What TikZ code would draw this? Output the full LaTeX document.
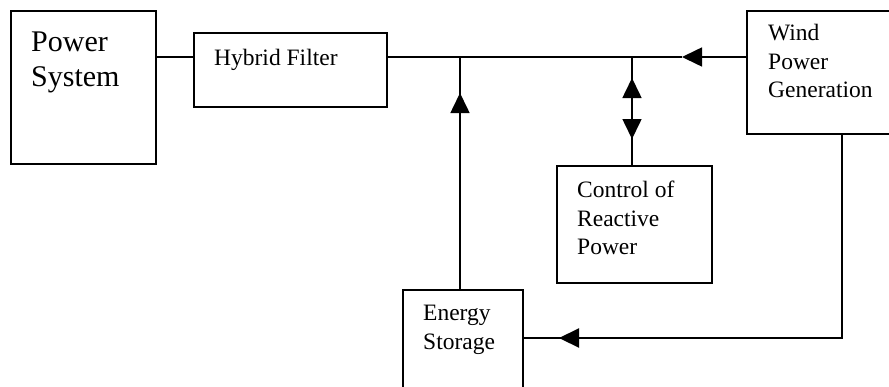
\documentclass[tikz,border=0pt]{standalone}
\usepackage{fontspec}
\setmainfont{Liberation Serif}
\usetikzlibrary{arrows.meta}
\tikzset{
  box/.style={draw, line width=1.6pt, rectangle, inner sep=0pt, anchor=north west},
  lbl/.style={anchor=north west, inner sep=0pt, align=left, font=\fontsize{23.5pt}{28.5pt}\selectfont},
  biglbl/.style={anchor=north west, inner sep=0pt, align=left, font=\fontsize{30pt}{35pt}\selectfont},
  wire/.style={line width=1.6pt},
  tri/.style={wire, -{Triangle[length=20pt, width=19pt]}}
}
\begin{document}
\begin{tikzpicture}[x=1pt, y=-1pt]
\useasboundingbox (0,0) rectangle (889,386);
\clip (0,0) rectangle (889,386);
% boxes
\node[box, minimum width=145pt, minimum height=153pt] (ps) at (10,10) {};
\node[box, minimum width=193pt, minimum height=74pt] (hf) at (193,32) {};
\node[box, minimum width=150pt, minimum height=123pt] (wind) at (746,10) {};
\node[box, minimum width=155pt, minimum height=117pt] (ctrl) at (556,165) {};
\node[box, minimum width=120pt, minimum height=120pt] (es) at (402,289) {};
% labels
\node[biglbl] (tps) at (31,32) {Power\\System};
\node[lbl] (thf) at (214,49) {Hybrid Filter};
\node[lbl] (twind) at (768,24) {Wind\\Power\\Generation};
\node[lbl] (tctrl) at (577,181) {Control of\\Reactive\\Power};
\node[lbl] (tes) at (423,305) {Energy\\Storage};
% coordinates
\coordinate (jE) at (460,57);
\coordinate (jC) at (632,57);
\coordinate (aW) at (682,57);
\coordinate (aE) at (460,93);
\coordinate (aCu) at (632,78);
\coordinate (aCd) at (632,139);
\coordinate (wb) at (842,133);
\coordinate (aS) at (559,338);
\coordinate (aSs) at (630,338);
\coordinate (esR) at (522,338);
% connectors
\draw[wire] (ps.east |- jE) -- (hf.west |- jE);
\draw[wire] (hf.east |- jE) -- (aW);
\draw[tri] (wind.west |- jE) -- (aW);
\draw[wire] (es.north -| jE) -- (jE);
\draw[tri] (es.north -| jE) -- (aE);
\draw[tri] (jC) -- (aCd);
\draw[tri] (ctrl.north -| jC) -- (aCu);
\draw[wire] (wb) |- (esR);
\draw[tri, line width=2.2pt] (aSs) -- (aS);
\end{tikzpicture}
\end{document}
